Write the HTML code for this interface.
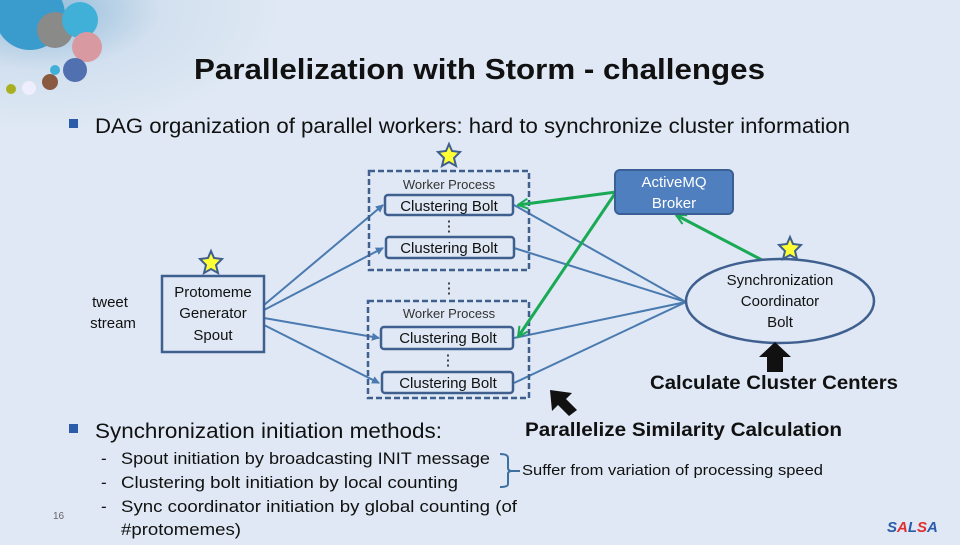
<!DOCTYPE html>
<html><head><meta charset="utf-8"><style>
body{margin:0;width:960px;height:540px;overflow:hidden;background:#dfe8f4;font-family:"Liberation Sans",sans-serif;}
</style></head><body>
<svg width="960" height="540" viewBox="0 0 960 540" xmlns="http://www.w3.org/2000/svg" font-family="Liberation Sans, sans-serif">
<defs>
<radialGradient id="bg" cx="0.1" cy="0.05" r="0.6"><stop offset="0" stop-color="#8fb9d8"/><stop offset="0.5" stop-color="#d2e0ef"/><stop offset="1" stop-color="#dfe8f4"/></radialGradient>
<marker id="ab" markerWidth="8" markerHeight="8" refX="7" refY="4" orient="auto" markerUnits="userSpaceOnUse"><path d="M0,0 L8,4 L0,8 z" fill="#4a7ab0"/></marker>
<marker id="ag" markerWidth="12" markerHeight="12" refX="11" refY="6" orient="auto" markerUnits="userSpaceOnUse"><path d="M1,1 L11,6 L1,11" fill="none" stroke="#1aaa55" stroke-width="2"/></marker>
</defs>
<rect width="960" height="540" fill="#dfe8f4"/>
<rect width="400" height="200" fill="url(#bg)"/>
<circle cx="30" cy="15" r="35" fill="#3a9ccc"/><circle cx="55" cy="30" r="18" fill="#8a8a88"/><circle cx="80" cy="20" r="18" fill="#40b0d8"/>
<circle cx="87" cy="47" r="15" fill="#d89aa0"/><circle cx="75" cy="70" r="12" fill="#5070b0"/><circle cx="50" cy="82" r="8" fill="#8a5a40"/><circle cx="29" cy="88" r="7" fill="#eef"/><circle cx="11" cy="89" r="5" fill="#a8b020"/><circle cx="55" cy="70" r="5" fill="#40b0d8"/>
<text x="194" y="79" font-size="29" font-weight="bold" fill="#111" textLength="571" lengthAdjust="spacingAndGlyphs">Parallelization with Storm - challenges</text>
<rect x="69" y="119" width="9" height="9" fill="#2a5caa"/>
<text x="95" y="133" font-size="21" fill="#111" textLength="755" lengthAdjust="spacingAndGlyphs">DAG organization of parallel workers: hard to synchronize cluster information</text>
<g stroke="#4a7ab0" stroke-width="2" fill="none">
<line x1="264" y1="305" x2="383" y2="205" marker-end="url(#ab)"/>
<line x1="264" y1="310" x2="383" y2="248" marker-end="url(#ab)"/>
<line x1="264" y1="318" x2="379" y2="338" marker-end="url(#ab)"/>
<line x1="264" y1="325" x2="379" y2="383" marker-end="url(#ab)"/>
<line x1="514" y1="205" x2="686" y2="302"/>
<line x1="514" y1="248" x2="686" y2="302"/>
<line x1="514" y1="338" x2="686" y2="302"/>
<line x1="514" y1="383" x2="686" y2="302"/>
</g>
<g fill="none" stroke="#3f5f8f" stroke-width="2.5" stroke-dasharray="6,3">
<rect x="369" y="171" width="160" height="99"/><rect x="368" y="301" width="161" height="97"/>
</g>
<g fill="#dfe8f4" stroke="#3f5f8f" stroke-width="2.5">
<rect x="385" y="195" width="128" height="20" rx="3"/><rect x="386" y="237" width="128" height="21" rx="3"/>
<rect x="381" y="327" width="132" height="22" rx="3"/><rect x="382" y="372" width="131" height="21" rx="3"/>
</g>
<g font-size="13" fill="#333" text-anchor="middle">
<text x="449" y="189">Worker Process</text><text x="449" y="318">Worker Process</text>
</g>
<g font-size="15" fill="#111" text-anchor="middle">
<text x="449" y="211">Clustering Bolt</text><text x="449" y="253">Clustering Bolt</text>
<text x="448" y="343">Clustering Bolt</text><text x="448" y="388">Clustering Bolt</text>
<text x="449" y="231">⋮</text><text x="449" y="293">⋮</text><text x="448" y="365">⋮</text>
</g>
<g stroke="#1aaa55" stroke-width="3" fill="none">
<line x1="616" y1="192" x2="518" y2="205" marker-end="url(#ag)"/>
<line x1="616" y1="192" x2="518" y2="337" marker-end="url(#ag)"/>
<line x1="762" y1="260" x2="676" y2="215" marker-end="url(#ag)"/>
</g>
<rect x="615" y="170" width="118" height="44" rx="5" fill="#4f7fbf" stroke="#3a5f95" stroke-width="2"/>
<text x="674" y="187" font-size="15" fill="#fff" text-anchor="middle">ActiveMQ</text>
<text x="674" y="208" font-size="15" fill="#fff" text-anchor="middle">Broker</text>
<ellipse cx="780" cy="301" rx="94" ry="42" fill="#dfe8f4" stroke="#3f5f8f" stroke-width="2.5"/>
<g font-size="15" fill="#111" text-anchor="middle">
<text x="780" y="285">Synchronization</text><text x="780" y="306">Coordinator</text><text x="780" y="327">Bolt</text>
</g>
<rect x="162" y="276" width="102" height="76" fill="#dfe8f4" stroke="#3f5f8f" stroke-width="2.5"/>
<g font-size="15" fill="#111" text-anchor="middle">
<text x="213" y="297">Protomeme</text><text x="213" y="318">Generator</text><text x="213" y="340">Spout</text>
<text x="110" y="307">tweet</text><text x="113" y="328">stream</text>
</g>
<g fill="#ffff33" stroke="#3f5f8f" stroke-width="2">
<polygon transform="translate(449,155)" points="0,-11 3,-4 11,-3 5,3 7,11 0,7 -7,11 -5,3 -11,-3 -3,-4"/>
<polygon transform="translate(211,262)" points="0,-11 3,-4 11,-3 5,3 7,11 0,7 -7,11 -5,3 -11,-3 -3,-4"/>
<polygon transform="translate(790,248)" points="0,-11 3,-4 11,-3 5,3 7,11 0,7 -7,11 -5,3 -11,-3 -3,-4"/>
</g>
<polygon points="775,342 791,357 783,357 783,372 767,372 767,357 759,357" fill="#111"/>
<polygon points="550,390 572,393 566,399 577,410 569,416 558,405 552,411" fill="#111"/>
<text x="650" y="389" font-size="19" font-weight="bold" fill="#111" textLength="248" lengthAdjust="spacingAndGlyphs">Calculate Cluster Centers</text>
<text x="525" y="436" font-size="19" font-weight="bold" fill="#111" textLength="317" lengthAdjust="spacingAndGlyphs">Parallelize Similarity Calculation</text>
<rect x="69" y="424" width="9" height="9" fill="#2a5caa"/>
<text x="95" y="438" font-size="21" fill="#111" textLength="347" lengthAdjust="spacingAndGlyphs">Synchronization initiation methods:</text>
<g font-size="17" fill="#111">
<text x="101" y="464">-</text><text x="101" y="488">-</text><text x="101" y="512">-</text>
<text x="121" y="464" textLength="369" lengthAdjust="spacingAndGlyphs">Spout initiation by broadcasting INIT message</text>
<text x="121" y="488" textLength="337" lengthAdjust="spacingAndGlyphs">Clustering bolt initiation by local counting</text>
<text x="121" y="512" textLength="396" lengthAdjust="spacingAndGlyphs">Sync coordinator initiation by global counting (of</text>
<text x="121" y="535" textLength="120" lengthAdjust="spacingAndGlyphs">#protomemes)</text>
</g>
<path d="M500,454 Q508,454 508,458 L508,468 Q508,471 512,471 Q508,471 508,474 L508,484 Q508,487 500,487 M512,471 L520,471" fill="none" stroke="#3f6fa0" stroke-width="2"/>
<text x="522" y="475" font-size="15" fill="#111" textLength="301" lengthAdjust="spacingAndGlyphs">Suffer from variation of processing speed</text>
<text x="53" y="519" font-size="10" fill="#666">16</text>
<text x="887" y="532" font-size="15" font-weight="bold" font-style="italic" fill="#2a5caa">S<tspan fill="#e03030">A</tspan>L<tspan fill="#e03030">S</tspan>A</text>
</svg>
</body></html>
